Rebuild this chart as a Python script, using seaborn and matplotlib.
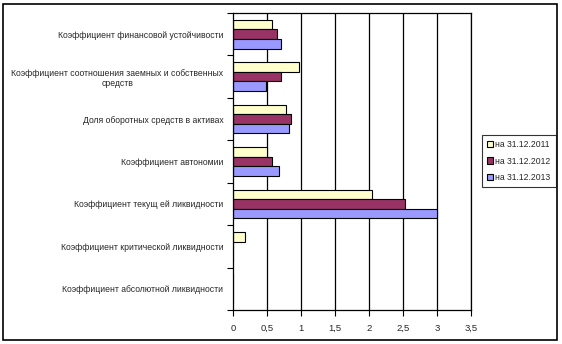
import matplotlib
matplotlib.use("Agg")
import matplotlib.pyplot as plt
import seaborn as sns
import pandas as pd
from matplotlib.patches import Rectangle

categories = [
    "Коэффициент финансовой устойчивости",
    "Коэффициент соотношения заемных и собственных\nсредств",
    "Доля оборотных средств в активах",
    "Коэффициент автономии",
    "Коэффициент текущ ей ликвидности",
    "Коэффициент критической ликвидности",
    "Коэффициент абсолютной ликвидности",
]
series_names = ["на 31.12.2011", "на 31.12.2012", "на 31.12.2013"]
v2011 = [0.58, 0.97, 0.78, 0.50, 2.05, 0.17, 0.0]
v2012 = [0.65, 0.71, 0.86, 0.58, 2.53, 0.0, 0.0]
v2013 = [0.71, 0.48, 0.82, 0.68, 3.00, 0.0, 0.0]
colors = ["#FFFFCC", "#993366", "#9999FF"]
xticks = [0, 0.5, 1, 1.5, 2, 2.5, 3, 3.5]
xticklabels = ["0", "0,5", "1", "1,5", "2", "2,5", "3", "3,5"]

rows = []
for s, vals in zip(series_names, [v2011, v2012, v2013]):
    for c, v in zip(categories, vals):
        rows.append({"cat": c, "series": s, "val": v})
df = pd.DataFrame(rows)

sns.set_style("white")
plt.rcParams["font.family"] = ["Liberation Sans", "DejaVu Sans"]

fig = plt.figure(figsize=(5.62, 3.44), dpi=100)
ax = fig.add_axes([233 / 562, 1 - 310 / 344, (471 - 233) / 562, (310 - 13) / 344])

sns.barplot(data=df, y="cat", x="val", hue="series", order=categories,
            hue_order=series_names, palette=colors, orient="h", width=0.68,
            edgecolor="black", linewidth=0.8, saturation=1, ax=ax, legend=True)

ax.set_xlim(0, 3.5)
ax.set_ylim(len(categories) - 0.5, -0.5)
ax.set_xticks(xticks)
ax.set_xticklabels(xticklabels, fontsize=6.8)
ax.set_xlabel("")
ax.set_ylabel("")
ax.set_yticks(range(len(categories)))
ax.set_yticklabels(categories, fontsize=6.2, multialignment="center")
ax.tick_params(axis="y", which="major", length=0, pad=7)
ax.set_yticks([i - 0.5 for i in range(len(categories) + 1)], minor=True)
ax.tick_params(axis="y", which="minor", length=4, width=0.8, direction="out", color="black", left=True)
ax.tick_params(axis="x", which="major", length=4, width=0.8, direction="out", color="black", bottom=True, pad=6)
ax.set_axisbelow(True)
ax.grid(False)
for x in xticks[1:]:
    ax.axvline(x, color="black", linewidth=0.9, zorder=0)
for sp in ax.spines.values():
    sp.set_visible(True)
    sp.set_color("black")
    sp.set_linewidth(0.9)

handles, labels = ax.get_legend_handles_labels()
ax.legend(handles, labels, loc="center left", bbox_to_anchor=(482 / 562, 1 - 161 / 344),
          bbox_transform=fig.transFigure, fontsize=6.2, frameon=True, fancybox=False,
          edgecolor="black", handlelength=0.7, handleheight=0.7, handletextpad=0.25,
          borderpad=0.6, labelspacing=0.85, borderaxespad=0)
ax.get_legend().get_frame().set_linewidth(0.8)

fig.patches.append(Rectangle((3 / 562, 4 / 344), (557 - 3) / 562, (340 - 4) / 344,
                             transform=fig.transFigure, fill=False, edgecolor="black",
                             linewidth=1.2, zorder=-1))

fig.savefig("out.png", dpi=100)
